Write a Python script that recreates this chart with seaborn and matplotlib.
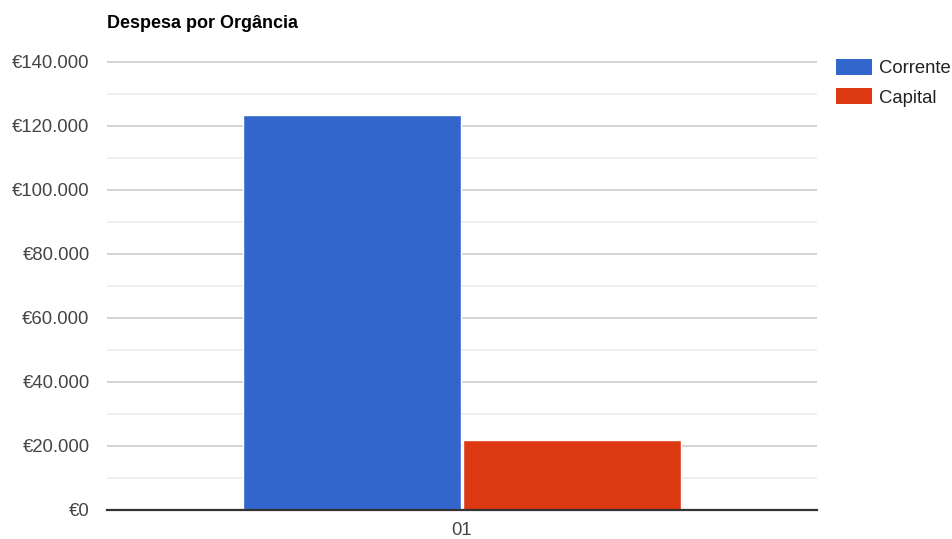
import matplotlib
matplotlib.use("Agg")
import matplotlib.pyplot as plt
import seaborn as sns
import pandas as pd
from matplotlib.ticker import FuncFormatter, MultipleLocator
from matplotlib.patches import Patch

categories = ["01"]
series = ["Corrente", "Capital"]
corrente = [123300]
capital = [21700]
colors = ["#3366cc", "#dc3912"]

df = pd.DataFrame({
    "cat": categories * 2,
    "serie": [series[0]] * len(categories) + [series[1]] * len(categories),
    "valor": corrente + capital,
})

sns.set_theme(style="white")
plt.rcParams["font.family"] = ["Liberation Sans", "DejaVu Sans"]

W, H = 952, 539
fig = plt.figure(figsize=(W / 100, H / 100), dpi=100)
ax = fig.add_axes([107 / W, (H - 509.5) / H, (817 - 107) / W, (509.5 - 61.5) / H])

sns.barplot(data=df, x="cat", y="valor", hue="serie", palette=colors,
            width=0.62, gap=0.008, ax=ax, legend=False, saturation=1)

ax.set_xlim(-0.5, 0.5)
ax.set_ylim(0, 140000)
ax.yaxis.set_major_locator(MultipleLocator(20000))
ax.yaxis.set_minor_locator(MultipleLocator(10000))
ax.yaxis.set_major_formatter(FuncFormatter(lambda v, p: "€" + f"{int(v):,}".replace(",", ".")))
ax.grid(axis="y", which="major", color="#cccccc", linewidth=1.2)
ax.grid(axis="y", which="minor", color="#ebebeb", linewidth=1.2)
ax.set_axisbelow(True)
for s in ["top", "right", "left"]:
    ax.spines[s].set_visible(False)
ax.spines["bottom"].set_color("#333333")
ax.spines["bottom"].set_linewidth(1.6)
ax.spines["bottom"].set_zorder(5)
ax.tick_params(axis="both", which="both", length=0, labelsize=13.3, labelcolor="#444444")
ax.tick_params(axis="y", pad=12.5)
ax.tick_params(axis="x", pad=9)
ax.set_xlabel("")
ax.set_ylabel("")

fig.text(107 / W, 1 - 23 / H, "Despesa por Orgância", fontsize=13, fontweight="bold",
         color="#000000", ha="left", va="center")

handles = [Patch(facecolor=c, edgecolor="none") for c in colors]
fig.legend(handles, series, loc="upper left", bbox_to_anchor=(836 / W, 1 - 59 / H),
           frameon=False, borderpad=0, borderaxespad=0, fontsize=13.3,
           handlelength=1.95, handleheight=0.95, handletextpad=0.38, labelspacing=0.6,
           labelcolor="#222222")

fig.savefig("out.png", dpi=100)
